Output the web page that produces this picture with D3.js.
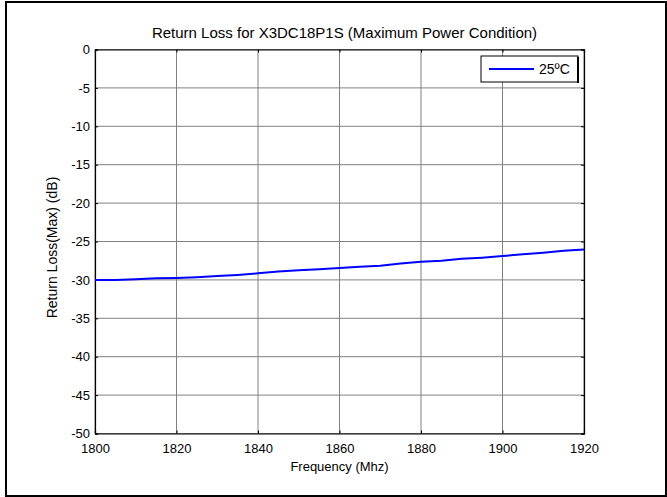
<!DOCTYPE html>
<html>
<head>
<meta charset="utf-8">
<script src="https://cdn.jsdelivr.net/npm/d3@7"></script>
<style>
  body { margin: 0; background: #fff; }
  text { font-family: "Liberation Sans", Arial, sans-serif; fill: #000; }
</style>
</head>
<body>
<script>
// frequency in MHz and return loss in dB
var freqs = [1800, 1805, 1810, 1815, 1820, 1825, 1830, 1835, 1840, 1845, 1850, 1855, 1860,
             1865, 1870, 1875, 1880, 1885, 1890, 1895, 1900, 1905, 1910, 1915, 1920];
var returnLoss = [-30.0, -30.0, -29.9, -29.8, -29.75, -29.65, -29.5, -29.35, -29.15, -28.9, -28.75, -28.6, -28.45,
                  -28.3, -28.15, -27.85, -27.65, -27.5, -27.25, -27.1, -26.9, -26.65, -26.45, -26.2, -26.05];
var xTicks = [1800, 1820, 1840, 1860, 1880, 1900, 1920];
var yTicks = [0, -5, -10, -15, -20, -25, -30, -35, -40, -45, -50];
var seriesName = "25ºC";
var title = "Return Loss for X3DC18P1S (Maximum Power Condition)";

var W = 667, H = 497;
var pL = 95, pR = 584, pT = 49.5, pB = 433.5;

var svg = d3.select("body").append("svg").attr("width", W).attr("height", H);

// outer frame
svg.append("rect").attr("x", 6).attr("y", 2).attr("width", 660).attr("height", 494)
  .attr("fill", "none").attr("stroke", "#000").attr("stroke-width", 2);

var x = d3.scaleLinear().domain([1800, 1920]).range([pL, pR]);
var y = d3.scaleLinear().domain([-50, 0]).range([pB, pT]);

// grid
var g = svg.append("g");
g.selectAll(".vg").data(xTicks).enter().append("line")
  .attr("x1", function(d) { return x(d); }).attr("x2", function(d) { return x(d); })
  .attr("y1", pT).attr("y2", pB)
  .attr("stroke", "#808080").attr("stroke-width", 1);
g.selectAll(".hg").data(yTicks).enter().append("line")
  .attr("y1", function(d) { return y(d); }).attr("y2", function(d) { return y(d); })
  .attr("x1", pL).attr("x2", pR)
  .attr("stroke", "#808080").attr("stroke-width", 1);

// axes (plain hyphen for negatives, like the original)
var fmt = function(d) { return String(d); };
var xAxis = d3.axisBottom(x).tickValues(xTicks).tickSize(-3).tickPadding(10).tickFormat(fmt);
var yAxis = d3.axisLeft(y).tickValues(yTicks).tickSize(-3).tickPadding(5).tickFormat(fmt);
var xAxisTop = d3.axisTop(x).tickValues(xTicks).tickSize(-3).tickFormat("");
var yAxisRight = d3.axisRight(y).tickValues(yTicks).tickSize(-3).tickFormat("");

function styleAxis(sel) {
  sel.select(".domain").attr("stroke", "#000").attr("stroke-width", 1.2);
  sel.selectAll(".tick line").attr("stroke", "#000");
  sel.selectAll(".tick text").style("font-size", "13px").style("font-family", "Liberation Sans, Arial, sans-serif");
}

svg.append("g").attr("transform", "translate(0," + pB + ")").call(xAxis).call(styleAxis);
svg.append("g").attr("transform", "translate(" + pL + ",0)").call(yAxis).call(styleAxis);
svg.append("g").attr("transform", "translate(0," + pT + ")").call(xAxisTop).call(styleAxis);
svg.append("g").attr("transform", "translate(" + pR + ",0)").call(yAxisRight).call(styleAxis);

// data line
var line = d3.line()
  .x(function(d, i) { return x(freqs[i]); })
  .y(function(d) { return y(d); });
svg.append("path").datum(returnLoss).attr("d", line)
  .attr("fill", "none").attr("stroke", "#0000ff").attr("stroke-width", 2);

// labels
svg.append("text").attr("x", (pL + pR) / 2 + 5).attr("y", 38)
  .attr("text-anchor", "middle").style("font-size", "15px").text(title);
svg.append("text").attr("x", (pL + pR) / 2).attr("y", 471)
  .attr("text-anchor", "middle").style("font-size", "13px").text("Frequency (Mhz)");
svg.append("text").attr("transform", "translate(57,247.5) rotate(-90)")
  .attr("text-anchor", "middle").style("font-size", "14px").text("Return Loss(Max) (dB)");

// legend
var lg = svg.append("g");
lg.append("rect").attr("x", 481).attr("y", 56).attr("width", 97).attr("height", 26)
  .attr("fill", "#fff").attr("stroke", "#000").attr("stroke-width", 1);
lg.append("line").attr("x1", 578).attr("x2", 578).attr("y1", 57).attr("y2", 83)
  .attr("stroke", "#000").attr("stroke-width", 2);
lg.append("line").attr("x1", 489).attr("x2", 534).attr("y1", 69).attr("y2", 69)
  .attr("stroke", "#0000ff").attr("stroke-width", 2);
lg.append("text").attr("x", 539).attr("y", 74).style("font-size", "14px").text(seriesName);
</script>
</body>
</html>
